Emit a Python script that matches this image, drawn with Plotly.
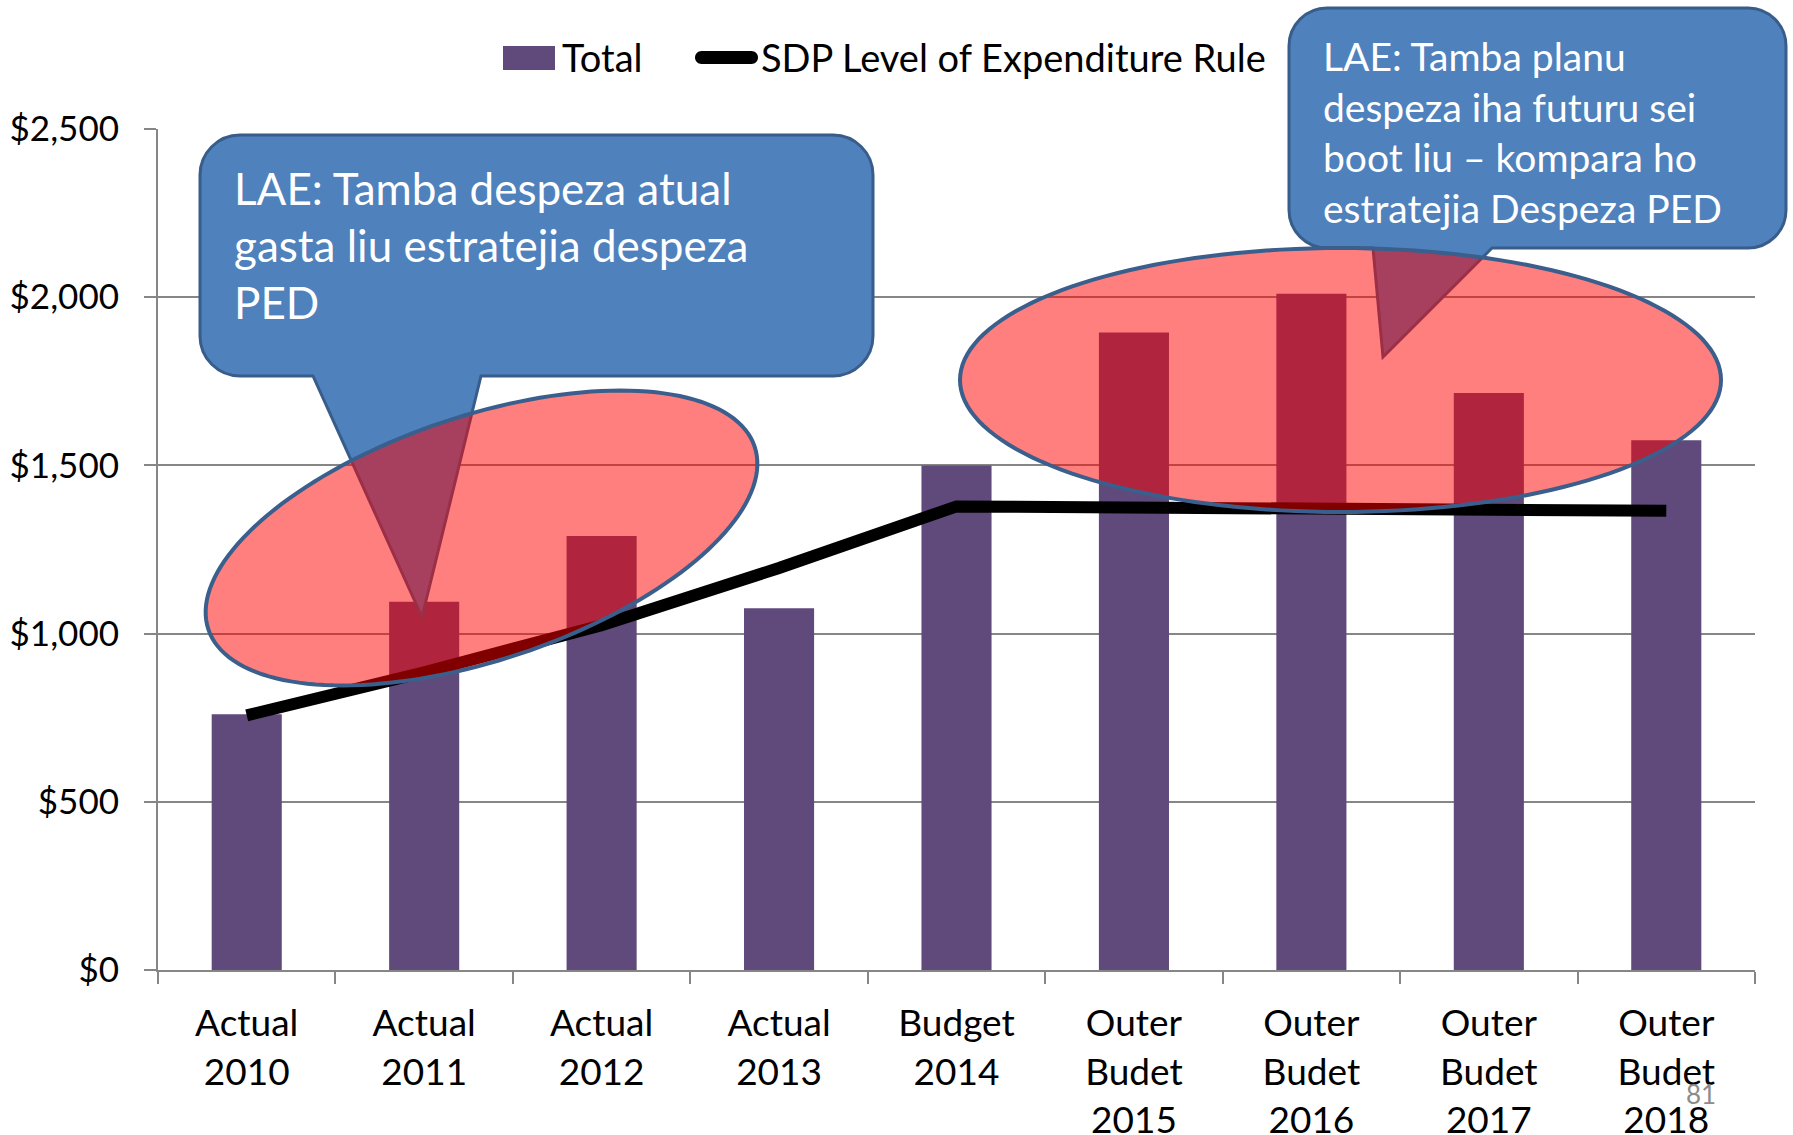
import math
import plotly.graph_objects as go

# ---- data -------------------------------------------------------------
categories = [
    "Actual<br>2010", "Actual<br>2011", "Actual<br>2012", "Actual<br>2013",
    "Budget<br>2014", "Outer<br>Budet<br>2015", "Outer<br>Budet<br>2016",
    "Outer<br>Budet<br>2017", "Outer<br>Budet<br>2018",
]
total = [760, 1095, 1290, 1075, 1500, 1895, 2010, 1715, 1575]
sdp_rule = [757, 885, 1025, 1195, 1378, 1376, 1372, 1368, 1365]
y_ticks = [0, 500, 1000, 1500, 2000, 2500]
y_tick_labels = ["$0", "$500", "$1,000", "$1,500", "$2,000", "$2,500"]

note_actual = "LAE: Tamba despeza atual<br>gasta liu estratejia despeza<br>PED"
note_future = ("LAE: Tamba planu<br>despeza iha futuru sei<br>"
               "boot liu \u2013 kompara ho<br>estratejia Despeza PED")

# ---- page geometry (pixels) ------------------------------------------
W, H = 1793, 1135
ML, MR, MT, MB = 158, 38, 129, 165
PW, PH = W - ML - MR, H - MT - MB

FONT = "Lato"
PURPLE = "#604A7B"
AXIS_GREY = "#868686"
CALLOUT_FILL = "#4F81BD"
CALLOUT_EDGE = "#385D8A"


def fx(x):
    """pixel x -> paper x"""
    return (x - ML) / PW


def fy(y):
    """pixel y (from top) -> paper y"""
    return (H - MB - y) / PH


def pt(x, y):
    return f"{fx(x):.5f},{fy(y):.5f}"


def callout_path(x0, y0, x1, y1, r, tail):
    """Rounded rectangle with a wedge tail hanging from its bottom edge."""
    k = 0.5523 * r
    (bx_a, bx_b, tip_x, tip_y) = tail
    d = [f"M{pt(x0 + r, y0)}", f"L{pt(x1 - r, y0)}",
         f"C{pt(x1 - r + k, y0)} {pt(x1, y0 + r - k)} {pt(x1, y0 + r)}",
         f"L{pt(x1, y1 - r)}",
         f"C{pt(x1, y1 - r + k)} {pt(x1 - r + k, y1)} {pt(x1 - r, y1)}",
         f"L{pt(bx_b, y1)}", f"L{pt(tip_x, tip_y)}", f"L{pt(bx_a, y1)}",
         f"L{pt(x0 + r, y1)}",
         f"C{pt(x0 + r - k, y1)} {pt(x0, y1 - r + k)} {pt(x0, y1 - r)}",
         f"L{pt(x0, y0 + r)}",
         f"C{pt(x0, y0 + r - k)} {pt(x0 + r - k, y0)} {pt(x0 + r, y0)}",
         "Z"]
    return " ".join(d)


def ellipse_path(cx, cy, a, b, angle_deg, n=160):
    th = math.radians(angle_deg)
    pts = []
    for i in range(n):
        phi = 2 * math.pi * i / n
        x = cx + a * math.cos(phi) * math.cos(th) + b * math.sin(phi) * math.sin(th)
        y = cy - a * math.cos(phi) * math.sin(th) + b * math.sin(phi) * math.cos(th)
        pts.append(pt(x, y))
    return "M" + " L".join(pts) + " Z"


def pill_path(x0, x1, yc, h):
    r = h / 2
    k = 0.5523 * r
    return " ".join([
        f"M{pt(x0 + r, yc - r)}", f"L{pt(x1 - r, yc - r)}",
        f"C{pt(x1 - r + k, yc - r)} {pt(x1, yc - k)} {pt(x1, yc)}",
        f"C{pt(x1, yc + k)} {pt(x1 - r + k, yc + r)} {pt(x1 - r, yc + r)}",
        f"L{pt(x0 + r, yc + r)}",
        f"C{pt(x0 + r - k, yc + r)} {pt(x0, yc + k)} {pt(x0, yc)}",
        f"C{pt(x0, yc - k)} {pt(x0 + r - k, yc - r)} {pt(x0 + r, yc - r)}",
        "Z"])


# ---- traces -----------------------------------------------------------
fig = go.Figure()
fig.add_trace(go.Bar(x=categories, y=total, name="Total",
                     marker=dict(color=PURPLE, line=dict(width=0)),
                     showlegend=False))
fig.add_trace(go.Scatter(x=categories, y=sdp_rule, mode="lines",
                         name="SDP Level of Expenditure Rule",
                         line=dict(color="black", width=12),
                         showlegend=False))

# ---- callouts and highlight ellipses ----------------------------------
shapes = [
    dict(type="path", xref="paper", yref="paper", layer="above",
         path=callout_path(200, 135, 873, 376, 40, (313, 481, 422, 617)),
         fillcolor=CALLOUT_FILL, line=dict(color=CALLOUT_EDGE, width=3)),
    dict(type="path", xref="paper", yref="paper", layer="above",
         path=callout_path(1289, 8, 1786, 248, 38, (1373, 1492, 1383, 357)),
         fillcolor=CALLOUT_FILL, line=dict(color=CALLOUT_EDGE, width=3)),
    dict(type="path", xref="paper", yref="paper", layer="above",
         path=ellipse_path(481.5, 538, 288, 122, 18.5),
         fillcolor="rgba(255,0,0,0.5)", line=dict(color="#3A5F8C", width=4)),
    dict(type="path", xref="paper", yref="paper", layer="above",
         path=ellipse_path(1340.5, 380, 380.5, 132, 0),
         fillcolor="rgba(255,0,0,0.5)", line=dict(color="#3A5F8C", width=4)),
    # legend swatches
    dict(type="rect", xref="paper", yref="paper", layer="above",
         x0=fx(503), x1=fx(555), y0=fy(70), y1=fy(46),
         fillcolor=PURPLE, line=dict(width=0)),
    dict(type="path", xref="paper", yref="paper", layer="above",
         path=pill_path(695, 758, 57.5, 13),
         fillcolor="black", line=dict(width=0)),
]

annotations = [
    dict(text="Total", x=fx(560), y=fy(57), xref="paper", yref="paper",
         xanchor="left", yanchor="middle", showarrow=False,
         font=dict(family=FONT, size=38, color="black")),
    dict(text="SDP Level of Expenditure Rule", x=fx(759), y=fy(57),
         xref="paper", yref="paper", xanchor="left", yanchor="middle",
         showarrow=False, font=dict(family=FONT, size=38, color="black")),
    dict(text=note_actual, x=fx(232), y=fy(245), xref="paper", yref="paper",
         xanchor="left", yanchor="middle", align="left", showarrow=False,
         font=dict(family=FONT, size=44, color="white")),
    dict(text=note_future, x=fx(1321), y=fy(132), xref="paper", yref="paper",
         xanchor="left", yanchor="middle", align="left", showarrow=False,
         font=dict(family=FONT, size=39, color="white")),
    dict(text="81", x=fx(1701), y=fy(1094), xref="paper", yref="paper",
         xanchor="center", yanchor="middle", showarrow=False,
         font=dict(family=FONT, size=26, color="#8C8C8C")),
]

fig.update_layout(
    width=W, height=H,
    margin=dict(l=ML, r=MR, t=MT, b=MB, pad=0, autoexpand=False),
    paper_bgcolor="white", plot_bgcolor="white",
    bargap=0.605,
    shapes=shapes, annotations=annotations,
    font=dict(family=FONT, color="black"),
)
fig.update_xaxes(
    type="category", tickson="boundaries", ticks="outside", ticklen=12,
    tickwidth=2, tickcolor=AXIS_GREY, showline=True, linecolor=AXIS_GREY,
    linewidth=2, showgrid=False, tickfont=dict(family=FONT, size=37),
    ticklabelstandoff=20, automargin=False,
)
fig.update_yaxes(
    range=[0, 2500], tickmode="array", tickvals=y_ticks,
    ticktext=y_tick_labels,
    ticks="outside", ticklen=12, tickwidth=2, tickcolor=AXIS_GREY,
    showline=True, linecolor=AXIS_GREY, linewidth=2,
    showgrid=True, gridcolor=AXIS_GREY, gridwidth=2, zeroline=False,
    tickfont=dict(family=FONT, size=35), ticklabelstandoff=18,
    automargin=False,
)

fig.write_html("out.html")
